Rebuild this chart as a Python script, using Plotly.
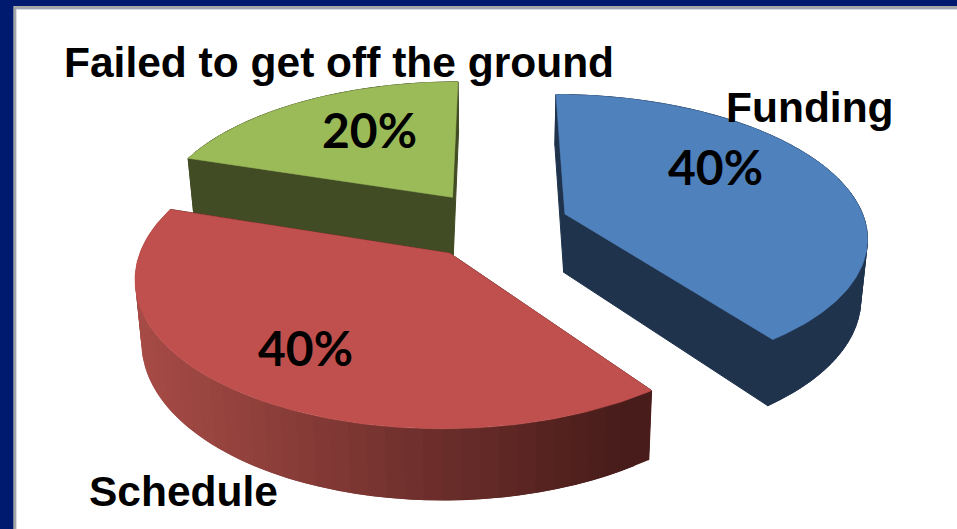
import math
import plotly.graph_objects as go

# ---- data ----
categories = ["Funding", "Schedule", "Failed to get off the ground"]
values = [40, 40, 20]
percent_labels = ["40%", "40%", "20%"]

# ---- style ----
top_colors = ["#4F81BD", "#C0504D", "#9BBB59"]
face_colors = ["#1F334D", "#4E1E1C", "#414B24"]
wall_left = [(31, 51, 77), (166, 75, 70), (65, 75, 36)]
wall_right = [(31, 51, 77), (72, 28, 26), (65, 75, 36)]
draw_order = [2, 1, 0]
W, H_PAGE = 957, 529
X0, Y0 = 495.0, 224.5      # projected pie centre
F, G, K = 301.0, 140.0, 0.148   # perspective
DEPTH, CONVERGE = 59.0, 0.982
EXPLODE = 0.247
NAVY = "#001A70"

label_pos = [(810, 107), (183, 491), (339, 62)]
pct_pos = [(715, 166), (305, 347), (369, 129)]


def project(u, v, bottom=False):
    d = 1 + K * v
    x = F * u / d
    y = -G * v / d
    if bottom:
        x *= CONVERGE
        y += DEPTH / d
    return X0 + x, Y0 + y


def slice_point(theta, r, cu, cv):
    t = math.radians(theta)
    return cu + r * math.sin(t), cv + r * math.cos(t)


def polygon(points, color, edge=0.6):
    xs = [p[0] for p in points] + [points[0][0]]
    ys = [p[1] for p in points] + [points[0][1]]
    return go.Scatter(x=xs, y=ys, mode="lines", fill="toself", fillcolor=color,
                      line=dict(color=color, width=edge), hoverinfo="skip",
                      showlegend=False)


def mix(a, b, t):
    t = min(1, max(0, t))
    return "rgb(%d,%d,%d)" % tuple(round(a[i] + (b[i] - a[i]) * t) for i in range(3))


total = sum(values)
starts, acc = [], 0.0
for v in values:
    starts.append(acc / total * 360)
    acc += v

traces = []
for i in draw_order:
    a0 = starts[i]
    a1 = a0 + values[i] / total * 360
    mid = math.radians((a0 + a1) / 2)
    cu, cv = EXPLODE * math.sin(mid), EXPLODE * math.cos(mid)
    # radial faces
    for a in (a0, a1):
        u, v = slice_point(a, 1, cu, cv)
        traces.append(polygon([project(cu, cv), project(u, v), project(u, v, True),
                               project(cu, cv, True)], face_colors[i], edge=1.0))
    # outer wall: overlapping strips, so no seams show and the shade can change along it
    n = max(2, round((a1 - a0) / 3))
    step = (a1 - a0) / n
    flat = wall_left[i] == wall_right[i]
    for j in range(n):
        p = a0 + step * j
        q = min(a1, p + step * 2)
        pts = [slice_point(p + (q - p) * s / 6, 1, cu, cv) for s in range(7)]
        ring = [project(*pt) for pt in pts] + [project(*pt, True) for pt in reversed(pts)]
        xm = project(*slice_point(p + step / 2, 1, cu, cv))[0]
        traces.append(polygon(ring, mix(wall_left[i], wall_right[i], (xm - 140) / 480),
                              edge=0.8 if flat else 0))
    # top face
    n = max(2, round(a1 - a0))
    outline = [project(cu, cv)]
    for j in range(n + 1):
        outline.append(project(*slice_point(a0 + (a1 - a0) * j / n, 1, cu, cv)))
    traces.append(polygon(outline, top_colors[i]))

fig = go.Figure(traces)

for name, (x, y) in zip(categories, label_pos):
    fig.add_annotation(x=x, y=y, text=name, showarrow=False, xanchor="center",
                       yanchor="middle",
                       font=dict(family="Liberation Sans", size=42.5, color="black", weight="bold"))
for txt, (x, y) in zip(percent_labels, pct_pos):
    fig.add_annotation(x=x, y=y, text=txt, showarrow=False, xanchor="center",
                       yanchor="middle",
                       font=dict(family="Lato", size=48, color="black", weight="bold"))

# white panel with its two-tone grey border
fig.add_shape(type="rect", x0=16, y0=8.9, x1=W + 20, y1=H_PAGE + 20, layer="below",
              fillcolor="white", line=dict(color="#D2D2D2", width=1.5))
fig.add_shape(type="rect", x0=14.4, y0=7, x1=W + 20, y1=H_PAGE + 20, layer="below",
              fillcolor="rgba(0,0,0,0)", line=dict(color="#A6A6A6", width=2.2))

fig.update_layout(
    width=W, height=H_PAGE, margin=dict(l=0, r=0, t=0, b=0),
    paper_bgcolor=NAVY, plot_bgcolor=NAVY, showlegend=False,
    xaxis=dict(range=[0, W], visible=False, fixedrange=True),
    yaxis=dict(range=[H_PAGE, 0], visible=False, fixedrange=True),
)
fig.write_html("out.html", config={"displayModeBar": False},
               post_script="document.body.style.margin='0';document.body.style.overflow='hidden';")
